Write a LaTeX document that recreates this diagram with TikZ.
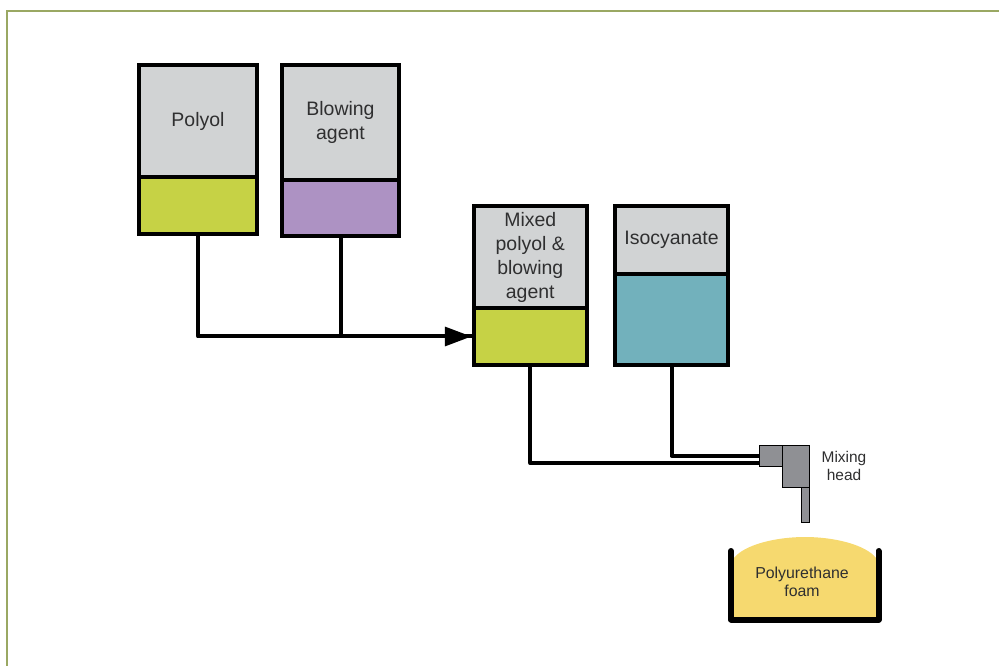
\documentclass[tikz,border=0pt]{standalone}
\usepackage{fontspec}
\setmainfont{Liberation Sans}
\usetikzlibrary{arrows.meta}
\definecolor{tankgray}{HTML}{D1D3D4}
\definecolor{polyolgreen}{HTML}{C6D245}
\definecolor{agentpurple}{HTML}{AD92C3}
\definecolor{isoblue}{HTML}{72B1BC}
\definecolor{headgray}{HTML}{8F9094}
\definecolor{foamyellow}{HTML}{F6D96F}
\definecolor{framegreen}{HTML}{9AA863}
\definecolor{labelgray}{HTML}{2F2F30}
\tikzset{
tank/.style={draw,line width=3pt,inner sep=0pt,align=center,text=labelgray,font=\fontsize{14.6}{18}\selectfont},
pipe/.style={line width=3pt,line join=round},
head/.style={draw,line width=.5pt,fill=headgray,inner sep=0pt},
small/.style={inner sep=0pt,align=center,text=labelgray,font=\fontsize{11.9}{13.5}\selectfont}
}
\begin{document}
\begin{tikzpicture}[x=.75pt,y=-.75pt]
\useasboundingbox (0,0) rectangle (999,666);
\draw[framegreen,line width=1.5pt] (999,11) -- (7,11) -- (7,666);
\node[tank,fill=tankgray,minimum width=88.5pt,minimum height=84pt] (polyol) at (198,121) {Polyol};
\node[tank,fill=polyolgreen,minimum width=88.5pt,minimum height=42.75pt] (polyolliquid) at (198,205.5) {};
\node[tank,fill=tankgray,minimum width=87.75pt,minimum height=86.25pt] (agent) at (340.5,122.5) {Blowing\\agent};
\node[tank,fill=agentpurple,minimum width=87.75pt,minimum height=42pt] (agentliquid) at (340.5,208) {};
\node[tank,fill=tankgray,minimum width=85pt,minimum height=76.5pt] (mixed) at (530.25,257) {Mixed\\polyol \&\\blowing\\agent};
\node[tank,fill=polyolgreen,minimum width=85pt,minimum height=42.75pt] (mixedliquid) at (530.25,336.5) {};
\node[tank,fill=tankgray,minimum width=84.75pt,minimum height=51pt] (iso) at (671.5,240) {Isocyanate};
\node[tank,fill=isoblue,minimum width=84.75pt,minimum height=68.25pt] (isoliquid) at (671.5,319.5) {};
\node[head,minimum width=17.25pt,minimum height=15.75pt] (inlet) at (770.5,455.5) {};
\node[head,minimum width=20.25pt,minimum height=31.5pt] (body) at (795.5,466) {};
\node[head,minimum width=6pt,minimum height=26.25pt] (nozzle) at (805,504.5) {};
\node[small,font=\fontsize{11.6}{13.5}\selectfont] (headlabel) at (844,466) {Mixing\\head};
\fill[foamyellow] (734,558) .. controls (744,545) and (775,537) .. (805,537) .. controls (835,537) and (866,545) .. (876,558) -- (876,618) -- (734,618) -- cycle;
\draw[line width=4.5pt,line cap=round,line join=round] (731,551) -- (731,619.5) -- (878.5,619.5) -- (878.5,551);
\node[small] (foam) at (802,581.5) {Polyurethane\\foam};
\draw[pipe] (polyolliquid.south) |- (mixedliquid.west);
\draw[pipe] (agentliquid.south) -- (agentliquid.south |- mixedliquid.west);
\draw[-{Triangle[length=20pt,width=14pt]},line width=3pt] (agentliquid.south |- mixedliquid.west) -- (mixedliquid.west);
\draw[pipe] (mixedliquid.south) |- (inlet.212);
\draw[pipe] (isoliquid.south) |- (inlet.west);
\end{tikzpicture}
\end{document}
